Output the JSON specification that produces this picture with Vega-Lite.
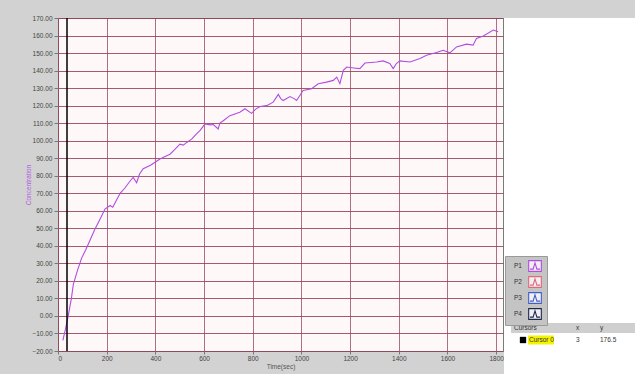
{
  "$schema": "https://vega.github.io/schema/vega-lite/v6.json",
  "background": "#d2d2d2",
  "padding": {"left": 24, "top": 14, "right": 0, "bottom": 0},
  "spacing": 0,
  "config": {
    "font": "Liberation Sans",
    "view": {"stroke": "#7a7a7a", "fill": "#fff8f8"},
    "concat": {"spacing": 0}
  },
  "hconcat": [
    {
      "width": 445,
      "height": 333,
      "data": {"values": [
        {"t": 20, "c": -14}, {"t": 30, "c": -8}, {"t": 42, "c": 0}, {"t": 55, "c": 10},
        {"t": 63, "c": 18}, {"t": 80, "c": 26}, {"t": 97, "c": 33}, {"t": 115, "c": 38},
        {"t": 131, "c": 43}, {"t": 150, "c": 49}, {"t": 172, "c": 55}, {"t": 193, "c": 61},
        {"t": 214, "c": 63}, {"t": 225, "c": 62}, {"t": 240, "c": 66}, {"t": 255, "c": 70},
        {"t": 275, "c": 73}, {"t": 296, "c": 77}, {"t": 309, "c": 79}, {"t": 323, "c": 76},
        {"t": 335, "c": 81}, {"t": 350, "c": 84}, {"t": 380, "c": 86}, {"t": 419, "c": 89.5},
        {"t": 440, "c": 91}, {"t": 460, "c": 92.3}, {"t": 480, "c": 95}, {"t": 501, "c": 98},
        {"t": 515, "c": 97.5}, {"t": 529, "c": 99}, {"t": 550, "c": 101}, {"t": 570, "c": 104},
        {"t": 583, "c": 105.7}, {"t": 604, "c": 109.6}, {"t": 625, "c": 109}, {"t": 638, "c": 109.2},
        {"t": 658, "c": 106.7}, {"t": 665, "c": 110}, {"t": 679, "c": 111.4}, {"t": 706, "c": 114.3},
        {"t": 747, "c": 116.2}, {"t": 768, "c": 118.2}, {"t": 795, "c": 115.6}, {"t": 812, "c": 118},
        {"t": 830, "c": 119.5}, {"t": 857, "c": 120}, {"t": 884, "c": 122}, {"t": 905, "c": 126.4},
        {"t": 915, "c": 124}, {"t": 925, "c": 122.9}, {"t": 953, "c": 125.2}, {"t": 970, "c": 124},
        {"t": 980, "c": 122.9}, {"t": 1007, "c": 128.7}, {"t": 1042, "c": 129.6}, {"t": 1069, "c": 132.5},
        {"t": 1103, "c": 133.4}, {"t": 1131, "c": 134.4}, {"t": 1145, "c": 136.3}, {"t": 1158, "c": 132.5},
        {"t": 1172, "c": 140.1}, {"t": 1186, "c": 142}, {"t": 1215, "c": 141.5}, {"t": 1240, "c": 141.1},
        {"t": 1261, "c": 144.3}, {"t": 1309, "c": 144.9}, {"t": 1336, "c": 145.5}, {"t": 1363, "c": 144},
        {"t": 1377, "c": 141.1}, {"t": 1390, "c": 144}, {"t": 1404, "c": 145.5}, {"t": 1446, "c": 144.9},
        {"t": 1487, "c": 146.9}, {"t": 1514, "c": 148.8}, {"t": 1555, "c": 150.3}, {"t": 1582, "c": 151.6},
        {"t": 1610, "c": 150.1}, {"t": 1637, "c": 153.5}, {"t": 1678, "c": 155.1}, {"t": 1705, "c": 154.5},
        {"t": 1719, "c": 158.3}, {"t": 1747, "c": 159.7}, {"t": 1788, "c": 163.1}, {"t": 1808, "c": 162.1}
      ]},
      "layer": [
        {
          "mark": {"type": "line", "strokeWidth": 1.1},
          "encoding": {
            "x": {
              "field": "t", "type": "quantitative",
              "scale": {"domain": [0, 1828], "nice": false, "zero": false},
              "axis": {
                "values": [0,100,200,300,400,500,600,700,800,900,1000,1100,1200,1300,1400,1500,1600,1700,1800],
                "format": "d",
                "title": "Time(sec)", "titleFontSize": 6.5, "titleFontWeight": "normal", "titleColor": "#555",
                "titlePadding": 2, "labelFontSize": 6.5, "labelColor": "#444", "labelPadding": 1,
                "tickSize": 3, "tickColor": "#777", "domain": false,
                "gridColor": "#94405a", "gridOpacity": 0.75
              }
            },
            "y": {
              "field": "c", "type": "quantitative",
              "scale": {"domain": [-20, 170], "nice": false, "zero": false},
              "axis": {
                "values": [-20,-10,0,10,20,30,40,50,60,70,80,90,100,110,120,130,140,150,160,170],
                "format": ".2f",
                "title": "Concentration", "titleFontSize": 6.5, "titleFontWeight": "normal", "titleColor": "#b060e0",
                "titlePadding": 1, "labelFontSize": 6.5, "labelColor": "#444", "labelPadding": 2,
                "tickSize": 4, "tickColor": "#777", "domain": false,
                "minExtent": 26, "maxExtent": 26,
                "gridColor": "#94405a", "gridOpacity": 0.85
              }
            },
            "color": {
              "datum": "P1", "type": "nominal",
              "scale": {"domain": ["P1", "P2", "P3", "P4"], "range": ["#b04ee0", "#e06878", "#4060c8", "#1c2a4a"]},
              "legend": {
                "orient": "none", "legendX": 447, "legendY": 238, "title": null,
                "fillColor": "#c4c4c4", "strokeColor": "#9a9a9a", "padding": 3,
                "labelFontSize": 6.5, "labelColor": "#333", "rowPadding": 0,
                "symbolOffset": 20, "labelOffset": -28,
                "symbolType": "M-1,-0.85H1V0.85H-1Z M-0.8,0.5L-0.3,0.5L0,-0.5L0.3,0.5L0.8,0.5",
                "symbolSize": 160,
                "symbolFillColor": "#f2eff4", "symbolStrokeWidth": 1.1
              }
            }
          }
        },
        {
          "data": {"values": [{"cx": 37}]},
          "mark": {"type": "rule", "color": "#000000", "strokeWidth": 1.5},
          "encoding": {"x": {"field": "cx", "type": "quantitative"}}
        }
      ]
    },
    {
      "width": 132,
      "height": 360,
      "view": {"fill": "#ffffff", "stroke": null},
      "data": {"values": [
        {"col": 0, "row": 0, "text": "Cursors"},
        {"col": 2, "row": 0, "text": "x"},
        {"col": 3, "row": 0, "text": "y"},
        {"col": 1, "row": 1, "text": "Cursor 0"},
        {"col": 2, "row": 1, "text": "3"},
        {"col": 3, "row": 1, "text": "176.5"}
      ]},
      "encoding": {
        "x": {"field": "col", "type": "quantitative", "scale": {"domain": [0, 1, 2, 3], "range": [10, 25, 72, 96]}, "axis": null},
        "y": {"field": "row", "type": "quantitative", "scale": {"domain": [0, 1], "range": [310, 322]}, "axis": null}
      },
      "layer": [
        {
          "transform": [{"filter": "datum.row == 0 && datum.col == 0"}],
          "mark": {"type": "rect", "height": 10, "color": "#cfcfcf"},
          "encoding": {"x": {"value": 7}, "x2": {"value": 132}}
        },
        {
          "transform": [{"filter": "datum.row == 1 && datum.col == 1"}],
          "mark": {"type": "rect", "width": 26, "height": 9, "xOffset": 12, "color": "#f4f400"}
        },
        {
          "transform": [{"filter": "datum.row == 1 && datum.col == 1"}],
          "mark": {"type": "square", "size": 40, "color": "#000000", "filled": true, "opacity": 1, "xOffset": -6}
        },
        {
          "mark": {"type": "text", "align": "left", "baseline": "middle", "fontSize": 6.5, "color": "#333"},
          "encoding": {"text": {"field": "text"}}
        }
      ]
    }
  ]
}
